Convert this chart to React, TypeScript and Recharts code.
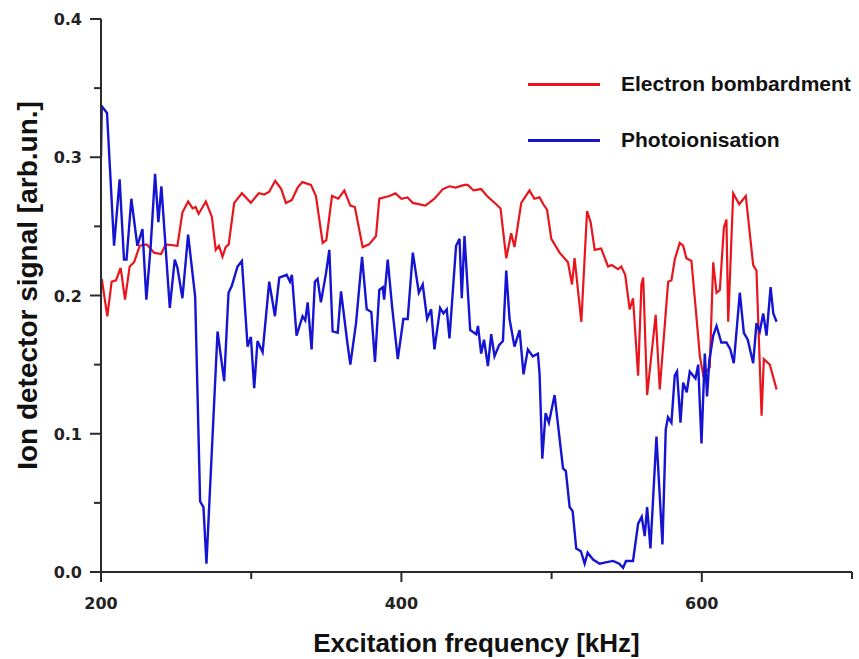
import React from 'react'
import { LineChart, Line, XAxis, YAxis, Legend } from 'recharts'

// Photoionisation signal: [frequency kHz, signal]
const photoFreq = [
  200, 200.5, 204, 208.7, 212.4, 215.3, 217, 220.2, 224.2, 227.6, 230.2, 233.1, 236, 238.2, 240.2, 245.8,
  249.1, 250.9, 254.2, 258, 262.7, 266, 268.2, 270.2, 277.6, 282, 284.9, 287.1, 290.9, 293.8, 297.6, 299.8,
  302, 304.2, 307.6, 312, 315.8, 318.7, 323.6, 325.8, 327.1, 330.2, 334.2, 336, 337.6, 340.2, 342.4, 344.2,
  346.4, 349.8, 352, 354.2, 357.6, 359.8, 364, 366, 369.8, 373.8, 376.9, 380, 382.4, 385.3, 387.6, 388.5,
  390.9, 393.8, 397.6, 401.3, 404.2, 407.6, 411.6, 414.2, 417.1, 419.8, 422, 425.8, 428, 430.2, 432, 436.4,
  438.7, 440.2, 442, 445.8, 449.8, 451, 453.1, 455, 457.6, 459.8, 462, 465, 467.6, 469.8, 472, 475.3,
  478.7, 481.3, 484.2, 487.5, 490.9, 492, 493.8, 496, 498.2, 502, 507.6, 509.5, 512, 514, 516.4, 519.5,
  522, 524, 527.6, 532, 536, 540.9, 545, 547.6, 549.5, 554.2, 557.6, 560, 562, 563.6, 565.8, 569.8,
  573.8, 576, 577.5, 579.8, 582, 583.5, 585.8, 587.6, 590, 592, 595.8, 597.6, 599.8, 602, 603.5, 605,
  607.6, 609.8, 613, 616.4, 619, 621.3, 625.3, 628, 630.6, 634.2, 636.4, 638.6, 640.9, 643.1, 645.8, 647.6,
  649.8,
]
const photoSignal = [
  0.3, 0.337, 0.332, 0.236, 0.284, 0.226, 0.226, 0.27, 0.236, 0.248, 0.197, 0.236, 0.288, 0.253, 0.279, 0.191,
  0.226, 0.22, 0.198, 0.244, 0.199, 0.051, 0.047, 0.006, 0.174, 0.138, 0.202, 0.207, 0.221, 0.225, 0.163, 0.17,
  0.133, 0.167, 0.159, 0.21, 0.185, 0.213, 0.215, 0.21, 0.215, 0.171, 0.185, 0.182, 0.195, 0.161, 0.21, 0.212,
  0.195, 0.216, 0.233, 0.174, 0.173, 0.203, 0.166, 0.15, 0.18, 0.228, 0.19, 0.188, 0.152, 0.204, 0.206, 0.197,
  0.226, 0.192, 0.154, 0.183, 0.183, 0.231, 0.202, 0.208, 0.183, 0.19, 0.161, 0.191, 0.187, 0.19, 0.169, 0.236,
  0.241, 0.198, 0.243, 0.175, 0.172, 0.178, 0.158, 0.168, 0.149, 0.172, 0.156, 0.164, 0.167, 0.218, 0.183, 0.163,
  0.175, 0.143, 0.161, 0.156, 0.158, 0.143, 0.082, 0.115, 0.108, 0.128, 0.075, 0.073, 0.047, 0.044, 0.017, 0.015,
  0.006, 0.014, 0.009, 0.006, 0.007, 0.008, 0.006, 0.003, 0.008, 0.008, 0.035, 0.04, 0.026, 0.047, 0.017, 0.098,
  0.02, 0.103, 0.112, 0.108, 0.142, 0.145, 0.108, 0.137, 0.13, 0.145, 0.14, 0.15, 0.093, 0.158, 0.127, 0.153,
  0.171, 0.178, 0.166, 0.166, 0.161, 0.151, 0.202, 0.173, 0.168, 0.151, 0.18, 0.174, 0.187, 0.171, 0.206, 0.187,
  0.181,
]

// Electron bombardment signal
const electronFreq = [
  200.5, 204.2, 207.1, 210, 213.1, 216, 219.1, 222, 225.8, 230.5, 235.3, 240, 243.1, 250.9, 254.2, 258,
  261, 263, 265, 269.8, 273.8, 276.4, 278.5, 280.9, 283, 285, 288.7, 293.8, 299.8, 305, 308.7, 312,
  316, 320, 323.1, 327, 330.9, 334, 339.8, 343.1, 347.6, 350, 353.8, 358, 362, 366, 369, 374.2,
  378.5, 383.1, 385.3, 392, 396, 400, 404, 407.6, 416, 422, 427.6, 432, 436, 442, 444.2, 448,
  453.1, 457, 463.1, 466, 469.8, 473.1, 475.3, 479.8, 485.3, 488.5, 492, 494.5, 497, 499.8, 505.3, 510.9,
  513.6, 515.3, 519.8, 523.6, 526, 528.7, 533, 537.6, 540, 544.2, 546.4, 549, 552, 554.2, 557.6, 559.8,
  561, 563.6, 569.3, 572, 577.6, 579.8, 582, 585.3, 587.6, 589.7, 593.1, 596.4, 598.7, 601, 603.1, 605.3,
  607.6, 609.8, 612, 614.7, 616.4, 617.6, 620.9, 624.9, 629.3, 634.2, 636.4, 639.8, 641.3, 645.3, 649.8,
]
const electronSignal = [
  0.212, 0.185, 0.21, 0.211, 0.22, 0.197, 0.221, 0.224, 0.236, 0.237, 0.231, 0.23, 0.237, 0.236, 0.26, 0.268,
  0.263, 0.264, 0.259, 0.268, 0.257, 0.233, 0.236, 0.228, 0.235, 0.237, 0.267, 0.274, 0.267, 0.274, 0.273, 0.275,
  0.283, 0.277, 0.267, 0.269, 0.278, 0.282, 0.28, 0.272, 0.238, 0.24, 0.272, 0.27, 0.276, 0.265, 0.264, 0.235,
  0.237, 0.243, 0.27, 0.272, 0.274, 0.27, 0.271, 0.267, 0.265, 0.27, 0.277, 0.279, 0.278, 0.28, 0.28, 0.276,
  0.277, 0.272, 0.266, 0.263, 0.227, 0.245, 0.235, 0.267, 0.276, 0.27, 0.271, 0.266, 0.262, 0.241, 0.231, 0.224,
  0.208, 0.227, 0.181, 0.261, 0.253, 0.233, 0.234, 0.221, 0.222, 0.219, 0.221, 0.215, 0.19, 0.198, 0.142, 0.208,
  0.213, 0.128, 0.186, 0.132, 0.21, 0.211, 0.226, 0.238, 0.236, 0.227, 0.225, 0.185, 0.156, 0.142, 0.145, 0.148,
  0.224, 0.202, 0.204, 0.249, 0.255, 0.181, 0.274, 0.266, 0.272, 0.222, 0.218, 0.113, 0.154, 0.15, 0.132,
]

const xTicks = [200, 300, 400, 500, 600, 700]
const yTicks = [0, 0.05, 0.1, 0.15, 0.2, 0.25, 0.3, 0.35, 0.4]

const RED = '#e8161c'
const BLUE = '#1414d2'
const AXIS = '#2a2a2a'
const TICK_FONT = '"DejaVu Sans", sans-serif'
const LABEL_FONT = '"Liberation Sans", Arial, sans-serif'

const photoData = photoFreq.map((f, i) => ({ f, v: photoSignal[i] }))
const electronData = electronFreq.map((f, i) => ({ f, v: electronSignal[i] }))

const legendItems = [
  { name: 'Electron bombardment', color: RED },
  { name: 'Photoionisation', color: BLUE },
]

function XTick({ x, y, payload }: any) {
  const major = payload.value % 200 === 0
  return (
    <g>
      <line x1={x} x2={x} y1={y} y2={y + (major ? 10 : 7)} stroke={AXIS} strokeWidth={2} />
      {major && payload.value < 700 && (
        <text x={x} y={y + 37} textAnchor="middle" fontFamily={TICK_FONT} fontWeight="bold" fontSize={16} fill="#222">
          {payload.value}
        </text>
      )}
    </g>
  )
}

function YTick({ x, y, payload }: any) {
  const major = Math.round(payload.value * 100) % 10 === 0
  return (
    <g>
      <line x1={x} x2={x - (major ? 11 : 7)} y1={y} y2={y} stroke={AXIS} strokeWidth={2} />
      {major && (
        <text x={x - 19} y={y + 6} textAnchor="end" fontFamily={TICK_FONT} fontWeight="bold" fontSize={16} fill="#222">
          {payload.value.toFixed(1)}
        </text>
      )}
    </g>
  )
}

function renderLegend() {
  return (
    <div>
      {legendItems.map((item, i) => (
        <div key={item.name} style={{ display: 'flex', alignItems: 'center', height: 48, marginTop: i ? 8 : 0 }}>
          <div style={{ width: 72, height: 3, marginLeft: 8, flexShrink: 0, background: item.color }} />
          <span
            style={{
              marginLeft: 21,
              whiteSpace: 'nowrap',
              fontFamily: LABEL_FONT,
              fontWeight: 'bold',
              fontSize: 21,
              color: '#111',
            }}
          >
            {item.name}
          </span>
        </div>
      ))}
    </div>
  )
}

export default function App() {
  return (
    <div style={{ position: 'absolute', left: 0, top: 0, background: '#fff' }}>
      <LineChart width={859} height={659} margin={{ top: 19, right: 7, bottom: 27, left: 0 }}>
        <XAxis
          type="number"
          dataKey="f"
          domain={[200, 700]}
          ticks={xTicks}
          interval={0}
          allowDataOverflow
          height={60}
          tickSize={0}
          tickMargin={0}
          tickLine={false}
          axisLine={{ stroke: AXIS, strokeWidth: 2 }}
          tick={<XTick />}
          label={{
            content: ({ viewBox }: any) => (
              <text
                x={viewBox.x + viewBox.width / 2}
                y={viewBox.y + 80}
                textAnchor="middle"
                fontFamily={LABEL_FONT}
                fontWeight="bold"
                fontSize={26}
                fill="#111"
              >
                Excitation frequency [kHz]
              </text>
            ),
          }}
        />
        <YAxis
          type="number"
          domain={[0, 0.4]}
          ticks={yTicks}
          interval={0}
          width={101}
          tickSize={0}
          tickMargin={0}
          tickLine={false}
          axisLine={{ stroke: AXIS, strokeWidth: 2 }}
          tick={<YTick />}
          label={{
            content: ({ viewBox }: any) => {
              const cy = viewBox.y + viewBox.height / 2 - 10
              return (
                <text
                  x={37}
                  y={cy}
                  transform={`rotate(-90 37 ${cy})`}
                  textAnchor="middle"
                  fontFamily={LABEL_FONT}
                  fontWeight="bold"
                  fontSize={28}
                  fill="#111"
                >
                  Ion detector signal [arb.un.]
                </text>
              )
            },
          }}
        />
        <Legend
          layout="vertical"
          align="center"
          verticalAlign="middle"
          content={renderLegend}
          wrapperStyle={{ left: 520, top: 60, width: 339, height: 112 }}
        />
        <Line
          data={electronData}
          dataKey="v"
          name="Electron bombardment"
          type="linear"
          stroke={RED}
          strokeWidth={2.2}
          dot={false}
          isAnimationActive={false}
        />
        <Line
          data={photoData}
          dataKey="v"
          name="Photoionisation"
          type="linear"
          stroke={BLUE}
          strokeWidth={2.4}
          dot={false}
          isAnimationActive={false}
        />
      </LineChart>
    </div>
  )
}
